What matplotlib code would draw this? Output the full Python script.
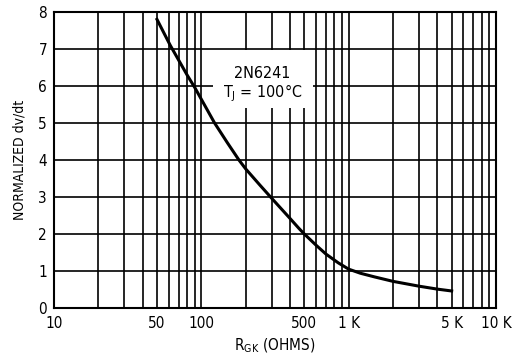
import matplotlib
matplotlib.use("Agg")
import matplotlib.pyplot as plt
from matplotlib import font_manager
from matplotlib.patches import Rectangle
from matplotlib.ticker import FixedLocator, NullFormatter

# ── data ──────────────────────────────────────────────────────────────────────
rgk_ohms = [50, 61.5, 80, 90.5, 123, 150, 180, 200, 250, 295, 400, 460, 500,
            600, 700, 850, 1000, 1200, 1500, 2000, 3000, 4000, 5000]
norm_dvdt = [7.8, 7.1, 6.3, 5.95, 5.0, 4.47, 4.0, 3.76, 3.32, 3.0, 2.42, 2.15, 2.0,
             1.7, 1.46, 1.22, 1.05, 0.94, 0.84, 0.72, 0.59, 0.51, 0.46]

x_ticks = [10, 50, 100, 500, 1000, 5000, 10000]
x_labels = ["10", "50", "100", "500", "1 K", "5 K", "10 K"]
y_ticks = [0, 1, 2, 3, 4, 5, 6, 7, 8]

# ── font: narrow sans if we can get one ──────────────────────────────────────
names = {f.name for f in font_manager.fontManager.ttflist}
if "Liberation Sans Narrow" in names:
    FONT = "Liberation Sans Narrow"
    STRETCH = "normal"
else:
    FONT = "DejaVu Sans"
    STRETCH = "condensed"
plt.rcParams.update({
    "font.family": [FONT],
    "font.stretch": STRETCH,
    "mathtext.fontset": "custom",
    "mathtext.rm": FONT,
    "mathtext.it": FONT,
})

fig = plt.figure(figsize=(5.19, 3.59), dpi=100)
ax = fig.add_axes([54 / 519, 1 - 308 / 359, 442 / 519, 296 / 359])

ax.set_xscale("log")
ax.set_xlim(10, 10000)
ax.set_ylim(0, 8)

minor = [m * 10 ** d for d in range(1, 4) for m in range(2, 10)]
ax.xaxis.set_major_locator(FixedLocator(x_ticks))
ax.set_xticklabels(x_labels)
ax.xaxis.set_minor_locator(FixedLocator(minor))
ax.xaxis.set_minor_formatter(NullFormatter())
ax.set_yticks(y_ticks)

ax.grid(True, which="both", color="black", linewidth=1.2)
ax.set_axisbelow(True)
ax.tick_params(which="both", length=0)
ax.tick_params(axis="x", pad=6, labelsize=11)
ax.tick_params(axis="y", pad=5, labelsize=11)
for s in ax.spines.values():
    s.set_linewidth(1.5)

# white label box over the grid
ax.add_patch(Rectangle((120, 5.4), 575 - 120, 6.97 - 5.4,
                       facecolor="white", edgecolor="none", zorder=2))
ax.text(0.472, 6.35, "2N6241", ha="center", va="center", fontsize=11.5,
        transform=ax.get_yaxis_transform(), zorder=3)
ax.text(0.472, 5.8, r"$\mathregular{T_J}$ = 100°C", ha="center", va="center",
        fontsize=11.5, transform=ax.get_yaxis_transform(), zorder=3)

ax.plot(rgk_ohms, norm_dvdt, color="black", linewidth=2.2,
        solid_joinstyle="round", zorder=4)

fig.text(20 / 519, 1 - 160 / 359, "NORMALIZED dv/dt", rotation=90,
         ha="center", va="center", fontsize=10)
fig.text(275 / 519, 1 - 346 / 359, r"$\mathregular{R_{GK}}$ (OHMS)",
         ha="center", va="center", fontsize=11)

fig.savefig("out.png", dpi=100)
